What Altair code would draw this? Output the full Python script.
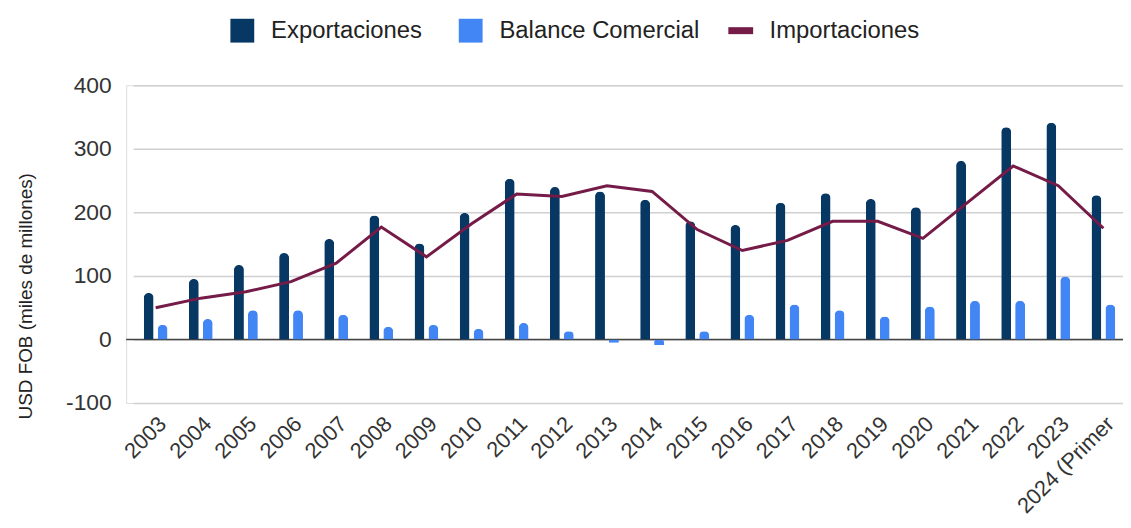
import altair as alt
import pandas as pd

years = ["2003", "2004", "2005", "2006", "2007", "2008", "2009", "2010", "2011", "2012",
         "2013", "2014", "2015", "2016", "2017", "2018", "2019", "2020", "2021", "2022",
         "2023", "2024 (Primer"]
exportaciones = [73, 95, 117, 136, 158, 195, 151, 199, 253, 240, 233, 220, 186, 180,
                 215, 230, 221, 208, 281, 334, 341, 227]
balance = [23, 32, 46, 46, 39, 20, 23, 17, 26, 13, -5, -9, 13, 39, 55, 46, 36, 52,
           61, 61, 99, 55]
importaciones = [50, 65, 75, 91, 120, 177, 130, 182, 229, 225, 242, 233, 173, 140,
                 156, 186, 186, 159, 216, 273, 242, 175]

bar_series = ["Exportaciones", "Balance Comercial"]
bar_colors = ["#073763", "#4285f4"]
line_series = ["Importaciones"]
line_colors = ["#741b47"]
y_ticks = [-100, 0, 100, 200, 300, 400]

FONT = "Liberation Sans, Arial, sans-serif"

bars_df = pd.DataFrame(
    [{"year": y, "serie": "Exportaciones", "value": v} for y, v in zip(years, exportaciones)]
    + [{"year": y, "serie": "Balance Comercial", "value": v} for y, v in zip(years, balance)]
)
line_df = pd.DataFrame({"year": years, "serie": "Importaciones", "value": importaciones})
zero_df = pd.DataFrame({"value": [0]})

x_enc = alt.X(
    "year:N",
    sort=years,
    scale=alt.Scale(range=[7, 1007], paddingInner=0, paddingOuter=0),
    axis=alt.Axis(
        title=None, labelAngle=-45, labelAlign="right", labelBaseline="top",
        labelFontSize=22, labelFont=FONT, labelColor="#333333", labelPadding=10,
        domain=False, ticks=False, grid=False, labelOverlap=False, labelLimit=400,
    ),
)
y_scale = alt.Scale(domain=[-100, 400], nice=False, zero=False)
y_axis = alt.Axis(
    title="USD FOB (miles de millones)", values=y_ticks, labelFontSize=23,
    labelExpr="'' + datum.value",
    labelFont=FONT, labelColor="#333333", labelPadding=15, domain=False, ticks=False,
    gridColor="#d0d0d0", gridWidth=1.5, titleFont=FONT, titleFontSize=19,
    titleFontWeight="normal", titleColor="#222222", titleX=-101, titleY=212,
    titleAngle=-90, titleAlign="center", titleBaseline="middle",
)

bars = alt.Chart(bars_df).mark_bar(size=10, cornerRadiusEnd=5).encode(
    x=x_enc,
    xOffset=alt.XOffset("serie:N", sort=bar_series,
                        scale=alt.Scale(domain=bar_series, paddingOuter=0.62, paddingInner=0)),
    y=alt.Y("value:Q", scale=y_scale, axis=y_axis),
    color=alt.Color(
        "serie:N",
        scale=alt.Scale(domain=bar_series, range=bar_colors),
        legend=alt.Legend(
            title=None, orient="none", direction="horizontal", legendX=105, legendY=-67,
            symbolType="square", symbolSize=576, symbolStrokeWidth=0, labelFontSize=24,
            labelFont=FONT, labelColor="#222222", labelOffset=17, columnPadding=36,
            symbolOpacity=1, labelLimit=400,
        ),
    ),
)

zero = alt.Chart(zero_df).mark_rule(color="#444444", strokeWidth=1.5).encode(
    y=alt.Y("value:Q", scale=y_scale)
)

line = alt.Chart(line_df).mark_line(strokeWidth=3).encode(
    x=alt.X("year:N", sort=years),
    y=alt.Y("value:Q", scale=y_scale),
    stroke=alt.Stroke(
        "serie:N",
        scale=alt.Scale(domain=line_series, range=line_colors),
        legend=alt.Legend(
            title=None, orient="none", direction="horizontal", legendX=603, legendY=-71,
            symbolType="stroke", symbolSize=625, symbolStrokeWidth=7, labelFontSize=24,
            labelFont=FONT, labelColor="#222222", labelOffset=13, labelLimit=400,
        ),
    ),
)

chart = alt.layer(zero, bars, line).resolve_scale(
    color="independent", stroke="independent"
).properties(
    width=1004, height=320,
    autosize=alt.AutoSizeParams(type="none"),
    padding={"left": 119, "top": 76, "right": 0, "bottom": 116},
).configure_view(stroke=None).configure(background="white")

chart.save("out.html", embed_options={"renderer": "svg", "actions": False})
